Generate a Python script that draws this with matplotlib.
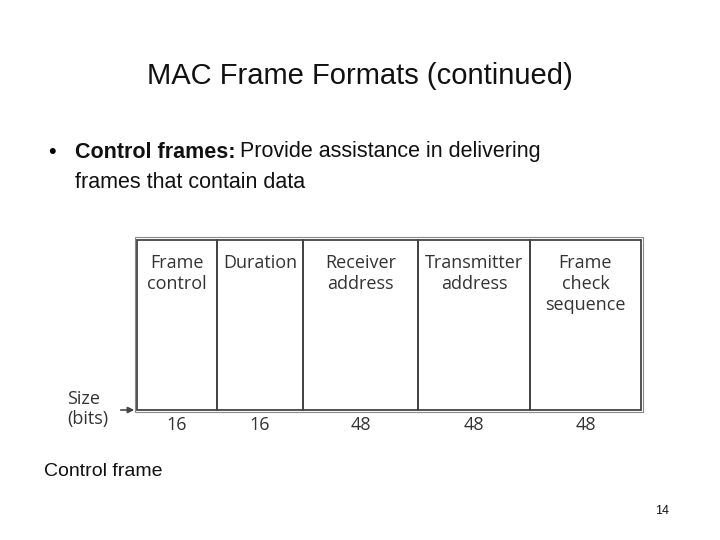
import matplotlib
matplotlib.use("Agg")
import matplotlib.pyplot as plt
from matplotlib.patches import Rectangle

fields = ["Frame\ncontrol", "Duration", "Receiver\naddress", "Transmitter\naddress", "Frame\ncheck\nsequence"]
bits = [16, 16, 48, 48, 48]

title = "MAC Frame Formats (continued)"
caption = "Control frame"
page = "14"

fig = plt.figure(figsize=(7.2, 5.4), dpi=100)
ax = fig.add_axes([0, 0, 1, 1])
ax.set_xlim(0, 720); ax.set_ylim(540, 0); ax.axis("off")

sans = "Liberation Sans"
ax.text(360, 76, title, ha="center", va="center", fontsize=21, family=sans, color="#111")
ax.text(48, 152, "•", ha="left", va="center", fontsize=15.5, family=sans)
b = ax.text(75, 152, "Control frames:", ha="left", va="center", fontsize=15.5, family=sans, weight="bold", color="#111")
fig.canvas.draw()
bb = b.get_window_extent(fig.canvas.get_renderer())
ax.text(bb.x1 + 5, 152, "Provide assistance in delivering", ha="left", va="center", fontsize=15.5, family=sans, color="#111")
ax.text(75, 182, "frames that contain data", ha="left", va="center", fontsize=15.5, family=sans, color="#111")

# diagram
x0, y0, y1 = 137, 240, 410
widths = [80, 86, 115, 112, 111]
gray = "#444"
ax.add_patch(Rectangle((x0 - 2, y0 - 3), sum(widths) + 4, y1 - y0 + 5, fill=False, lw=0.8, ec="#888"))
x = x0
for f, bt, w in zip(fields, bits, widths):
    ax.add_patch(Rectangle((x, y0), w, y1 - y0, fill=False, lw=1.3, ec=gray))
    ax.text(x + w / 2, y0 + 14, f, ha="center", va="top", fontsize=13, family="Open Sans",
            color="#333", linespacing=1.2)
    ax.text(x + w / 2, 425, str(bt), ha="center", va="center", fontsize=13, family="Open Sans", color="#333")
    x += w
ax.text(67, 409, "Size\n(bits)", ha="left", va="center", fontsize=13, family="Open Sans", color="#333", linespacing=1.2)
ax.annotate("", xy=(137, 410), xytext=(118, 410),
            arrowprops=dict(arrowstyle="-|>", color=gray, lw=1.2, mutation_scale=9))

ax.text(44, 472, caption, ha="left", va="center", fontsize=14, family=sans, color="#111")
ax.text(662, 511, page, ha="center", va="center", fontsize=9, family=sans, color="#111")

fig.savefig("out.png", dpi=100)
